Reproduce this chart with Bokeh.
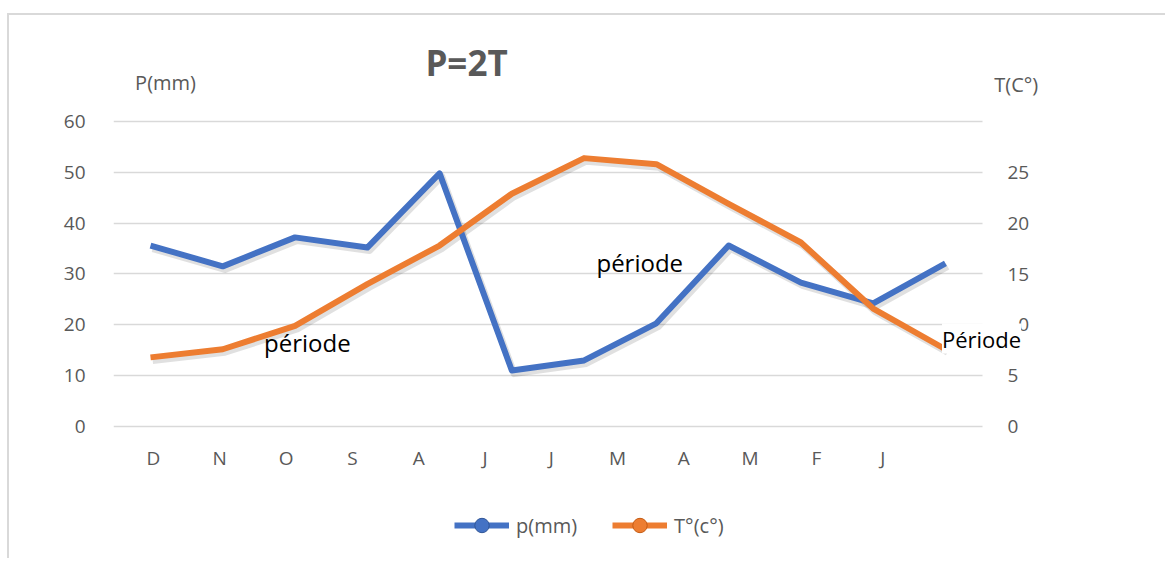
from bokeh.plotting import figure
from bokeh.layouts import column
from bokeh.models import (Range1d, LinearAxis, FixedTicker, Label, Legend, LegendItem,
                          ColumnDataSource, BoxAnnotation)
from bokeh.embed import file_html
from bokeh.resources import INLINE
import math

# ---- data ----
months = ["D", "N", "O", "S", "A", "J", "J", "M", "A", "M", "F", "J"]
precip = [35.6, 31.5, 37.2, 35.2, 49.8, 11.0, 13.0, 20.3, 35.6, 28.3, 24.2, 32.1]
temp = [6.8, 7.6, 9.9, 14.0, 17.8, 22.9, 26.4, 25.8, 21.9, 18.1, 11.6, 7.6]
left_ticks = [0, 10, 20, 30, 40, 50, 60]
right_ticks = [0, 5, 10, 15, 20, 25, 30]
series_names = ["p(mm)", "T°(c°)"]

BLUE = "#4472C4"
ORANGE = "#ED7D31"
GRAY = "#595959"
GRID = "#D9D9D9"
FONT = "Open Sans"

idx = list(range(len(months)))

# plot-area geometry
CAT_START, CAT_END = -0.603, 14.239       # category slots
LINE_START, LINE_END = -0.512, 13.104     # line positions
YL_BOT, YL_TOP = -2.3607, 80.85
YR_BOT, YR_TOP = -1.1804, 40.43
AXIS_RIGHT_AT = 12.504                    # where the value area ends

p = figure(width=1158, height=475, output_backend="svg", toolbar_location=None,
           x_range=Range1d(CAT_START, CAT_END), y_range=Range1d(YL_BOT, YL_TOP),
           min_border_left=104, min_border_right=70, min_border_top=0,
           min_border_bottom=52, x_axis_location=None, y_axis_location=None)
p.styles = {"border-top": "2px solid #d9d9d9", "border-left": "2px solid #d9d9d9",
            "margin-top": "13px", "margin-left": "7px"}
p.outline_line_color = None
p.background_fill_color = "white"
p.border_fill_color = "white"

p.extra_x_ranges = {"lines": Range1d(LINE_START, LINE_END),
                    "shadow": Range1d(LINE_START - 0.03, LINE_END - 0.03)}
p.extra_y_ranges = {"right": Range1d(YR_BOT, YR_TOP),
                    "shadowL": Range1d(YL_BOT + 0.6, YL_TOP + 0.6),
                    "shadowR": Range1d(YR_BOT + 0.3, YR_TOP + 0.3)}

# axes
xaxis = LinearAxis(ticker=FixedTicker(ticks=idx),
                   major_label_overrides={i: m for i, m in enumerate(months)})
yl = LinearAxis(ticker=FixedTicker(ticks=left_ticks))
yr = LinearAxis(y_range_name="right", ticker=FixedTicker(ticks=right_ticks),
                major_label_overrides={30: ""}, fixed_location=AXIS_RIGHT_AT)
for ax in (xaxis, yl, yr):
    ax.axis_line_color = None
    ax.major_tick_line_color = None
    ax.minor_tick_line_color = None
    ax.major_label_text_color = GRAY
    ax.major_label_text_font = FONT
    ax.major_label_text_font_size = "19px"
xaxis.major_label_standoff = 0
yl.major_label_standoff = 22
yr.major_label_standoff = 19
p.add_layout(xaxis, "below")
p.add_layout(yl, "left")
p.add_layout(yr, "right")

p.xgrid.visible = False
p.ygrid.ticker = FixedTicker(ticks=left_ticks)
p.ygrid.grid_line_color = GRID
p.ygrid.grid_line_width = 1.5
try:
    p.ygrid.cross_bounds = (CAT_START, AXIS_RIGHT_AT)
except Exception:
    p.ygrid.visible = False
    p.segment(x0=CAT_START, x1=AXIS_RIGHT_AT, y0=left_ticks, y1=left_ticks,
              line_color=GRID, line_width=1.5, level="underlay")

# shadows
p.line(idx, precip, x_range_name="shadow", y_range_name="shadowL",
       line_color="black", line_alpha=0.12, line_width=7, line_join="round")
p.line(idx, temp, x_range_name="shadow", y_range_name="shadowR",
       line_color="black", line_alpha=0.12, line_width=7, line_join="round")

# series
p.line(idx, precip, x_range_name="lines", line_color=BLUE, line_width=6,
       line_join="round")
p.line(idx, temp, x_range_name="lines", y_range_name="right", line_color=ORANGE,
       line_width=6, line_join="round")

# white patch that hides the "1" of the right-axis "10" (as in the original)
p.add_layout(BoxAnnotation(left=11.817, right=11.997, bottom=9.15, top=10.82,
                           x_range_name="lines", y_range_name="right",
                           fill_color="white", fill_alpha=1, line_color=None))

# texts
def lab(x, y, text, size, color, bold=False, bg=None):
    l = Label(x=x, y=y, x_range_name="lines", text=text, text_align="center",
              text_baseline="middle", text_font=FONT, text_font_size=size,
              text_color=color, text_font_style="bold" if bold else "normal")
    if bg:
        l.background_fill_color = bg
    p.add_layout(l)

lab(4.373, 71.6, "P=2T", "35px", GRAY, bold=True)
lab(0.208, 67.6, "P(mm)", "20px", GRAY)
lab(11.98, 67.2, "T(C°)", "20px", GRAY)
lab(2.17, 16.5, "période", "24px", "black")
lab(6.77, 32.3, "période", "24px", "black")
lab(11.50, 17.3, "Période", "22px", "black", bg="white")

# ---- legend strip ----
q = figure(width=1158, height=70, output_backend="svg", toolbar_location=None,
           x_range=Range1d(0, 1), y_range=Range1d(0, 1),
           min_border_left=0, min_border_right=0, min_border_top=0,
           min_border_bottom=0, x_axis_location=None, y_axis_location=None)
q.styles = {"border-left": "2px solid #d9d9d9", "margin-left": "7px"}
q.outline_line_color = None
q.xgrid.visible = False
q.ygrid.visible = False
dummy = ColumnDataSource(dict(x=[math.nan], y=[math.nan]))
items = []
for name, col, edge in zip(series_names, [BLUE, ORANGE], ["#2F5597", "#C55A11"]):
    r1 = q.line("x", "y", source=dummy, line_color=col, line_width=6)
    r2 = q.scatter("x", "y", source=dummy, size=15, fill_color=col, line_color=edge)
    items.append(LegendItem(label=name, renderers=[r1, r2]))
legend = Legend(items=items, location=(341, 15), orientation="horizontal",
                glyph_width=55, glyph_height=36, label_standoff=7, spacing=35,
                padding=0, margin=0, border_line_color=None,
                background_fill_alpha=0, label_text_color=GRAY,
                label_text_font=FONT, label_text_font_size="20px")
q.add_layout(legend, "center")

open("out.html", "w").write(file_html(column(p, q), INLINE))
